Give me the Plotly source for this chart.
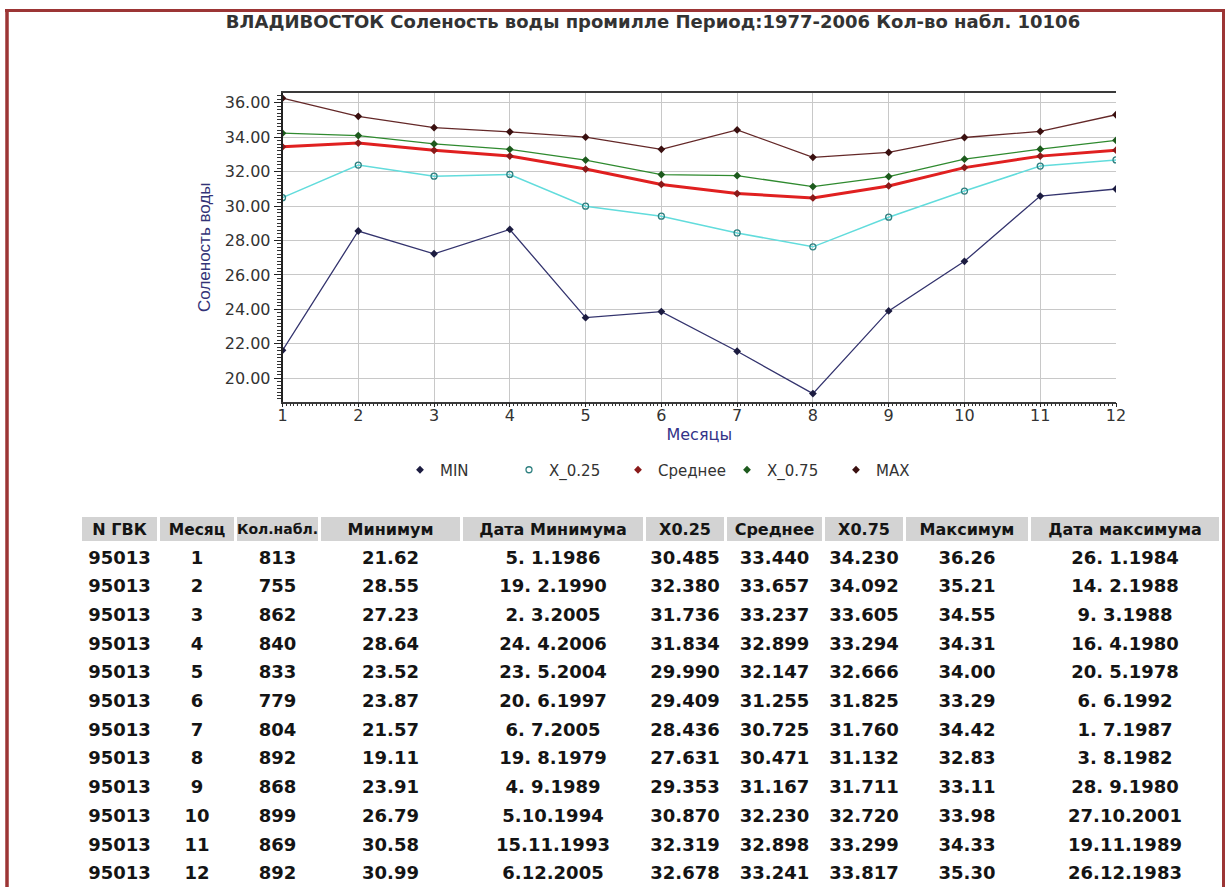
import plotly.graph_objects as go

W, H = 1230, 887

months = [1, 2, 3, 4, 5, 6, 7, 8, 9, 10, 11, 12]
station = ["95013"] * 12
counts = [813, 755, 862, 840, 833, 779, 804, 892, 868, 899, 869, 892]
min_vals = [21.62, 28.55, 27.23, 28.64, 23.52, 23.87, 21.57, 19.11, 23.91, 26.79, 30.58, 30.99]
min_dates = ["5. 1.1986", "19. 2.1990", "2. 3.2005", "24. 4.2006", "23. 5.2004", "20. 6.1997",
             "6. 7.2005", "19. 8.1979", "4. 9.1989", "5.10.1994", "15.11.1993", "6.12.2005"]
x025 = [30.485, 32.380, 31.736, 31.834, 29.990, 29.409, 28.436, 27.631, 29.353, 30.870, 32.319, 32.678]
mean_vals = [33.440, 33.657, 33.237, 32.899, 32.147, 31.255, 30.725, 30.471, 31.167, 32.230, 32.898, 33.241]
x075 = [34.230, 34.092, 33.605, 33.294, 32.666, 31.825, 31.760, 31.132, 31.711, 32.720, 33.299, 33.817]
max_vals = [36.26, 35.21, 34.55, 34.31, 34.00, 33.29, 34.42, 32.83, 33.11, 33.98, 34.33, 35.30]
max_dates = ["26. 1.1984", "14. 2.1988", "9. 3.1988", "16. 4.1980", "20. 5.1978", "6. 6.1992",
             "1. 7.1987", "3. 8.1982", "28. 9.1980", "27.10.2001", "19.11.1989", "26.12.1983"]

headers = ["N ГВК", "Месяц", "Кол.набл.", "Минимум", "Дата Минимума",
           "X0.25", "Среднее", "X0.75", "Максимум", "Дата максимума"]
header_sizes = [16, 15.5, 14, 16, 16, 16, 16, 16, 16, 16]
col_widths = [78, 77, 84, 142, 183, 81, 98, 81, 125, 191]
legend_names = ["MIN", "X_0.25", "Среднее", "X_0.75", "MAX"]

title_text = ("ВЛАДИВОСТОК Соленость воды промилле Период:1977-2006 Кол-во набл. "
              + str(sum(counts)))

series = [
    dict(y=min_vals, line=dict(color="#34346e", width=1.3),
         marker=dict(symbol="diamond", size=6, color="#1c1c40")),
    dict(y=x025, line=dict(color="#62dcdc", width=1.5),
         marker=dict(symbol="circle-open", size=6, color="#2f8080", line=dict(width=1.3))),
    dict(y=mean_vals, line=dict(color="#e02020", width=3),
         marker=dict(symbol="diamond", size=6, color="#8a1a1a")),
    dict(y=x075, line=dict(color="#2f8a2f", width=1.3),
         marker=dict(symbol="diamond", size=6, color="#1d5a1d")),
    dict(y=max_vals, line=dict(color="#642828", width=1.3),
         marker=dict(symbol="diamond", size=6, color="#3a1010")),
]

fig = go.Figure()
for name, s in zip(legend_names, series):
    fig.add_trace(go.Scatter(x=months, y=s["y"], mode="lines+markers", name=name,
                             line=s["line"], marker=s["marker"], showlegend=False,
                             hoverinfo="x+y"))
for name, s in zip(legend_names, series):
    fig.add_trace(go.Scatter(x=[None], y=[None], mode="markers", name=name,
                             marker=s["marker"], showlegend=True))

fig.add_trace(go.Table(
    domain=dict(x=[80.5 / W, 1220.5 / W], y=[0, 1 - 515 / H]),
    columnwidth=col_widths,
    header=dict(values=headers, fill_color="#d3d3d3", align="center", height=27,
                line=dict(color="white", width=3),
                font=dict(family="DejaVu Sans", size=header_sizes, color="#141414", weight="bold")),
    cells=dict(values=[station, months, counts, min_vals, min_dates,
                       x025, mean_vals, x075, max_vals, max_dates],
               format=["", "", "", ".2f", "", ".3f", ".3f", ".3f", ".2f", ""],
               fill_color="white", align="center", height=28.7,
               line=dict(color="white", width=1),
               font=dict(family="DejaVu Sans", size=18, color="#141414", weight="bold")),
))

x0p, x1p = 282.5, 1116
ytop, ybot = 92.7, 401.7

fig.update_layout(
    width=W, height=H,
    margin=dict(l=0, r=0, t=0, b=0, pad=0, autoexpand=False),
    paper_bgcolor="white", plot_bgcolor="white",
    font=dict(family="Liberation Sans", color="#333333"),
    title=dict(text="<b>" + title_text + "</b>", x=653 / W, xanchor="center",
               y=1 - 22 / H, yanchor="middle",
               font=dict(family="DejaVu Sans", size=18, color="#333333")),
    xaxis=dict(domain=[x0p / W, x1p / W], range=[1, 12], dtick=1, tick0=1,
               showgrid=True, gridcolor="#c8c8c8", gridwidth=1,
               showline=True, linecolor="#3a3a3a", linewidth=1.5, mirror=True,
               ticks="outside", ticklen=4, tickcolor="#222222",
               ticklabelstandoff=-6,
               minor=dict(dtick=0.05, ticks="outside", ticklen=3, tickcolor="#333333", showgrid=False),
               tickfont=dict(family="DejaVu Sans", size=16, color="#333333"),
               title=dict(text="Месяцы", standoff=3,
                          font=dict(family="DejaVu Sans", size=16, color="#333388")),
               zeroline=False, fixedrange=True, automargin=False),
    yaxis=dict(domain=[1 - ybot / H, 1 - ytop / H], range=[18.64, 36.58], dtick=2, tick0=20,
               tickformat=".2f",
               showgrid=True, gridcolor="#c8c8c8", gridwidth=1,
               showline=True, linecolor="#222222", linewidth=1.5,
               ticks="outside", ticklen=7, tickcolor="#222222",
               minor=dict(dtick=0.2, ticks="outside", ticklen=4, tickcolor="#333333", showgrid=False),
               tickfont=dict(family="DejaVu Sans", size=16, color="#333333"),
               title=dict(text="Соленость воды", standoff=10,
                          font=dict(family="Liberation Sans", size=17, color="#333377")),
               zeroline=False, fixedrange=True, automargin=False),
    legend=dict(orientation="h", x=400 / W, xanchor="left", y=1 - 470 / H, yanchor="middle",
                entrywidth=64, entrywidthmode="pixels",
                font=dict(family="DejaVu Sans", size=15, color="#333333"),
                bgcolor="rgba(0,0,0,0)"),
    shapes=[
        dict(type="line", xref="paper", yref="paper", x0=5 / W, x1=1225 / W,
             y0=1 - 10.5 / H, y1=1 - 10.5 / H, line=dict(color="#9c3535", width=3)),
        dict(type="line", xref="paper", yref="paper", x0=7 / W, x1=7 / W,
             y0=0, y1=1 - 9 / H, line=dict(color="#9c3535", width=3.5)),
        dict(type="line", xref="paper", yref="paper", x0=1223.5 / W, x1=1223.5 / W,
             y0=0, y1=1 - 9 / H, line=dict(color="#9c3535", width=3)),
    ],
)

fig.write_html("out.html", config={"displayModeBar": False},
               post_script="document.body.style.margin='0';document.body.style.overflow='hidden';")
